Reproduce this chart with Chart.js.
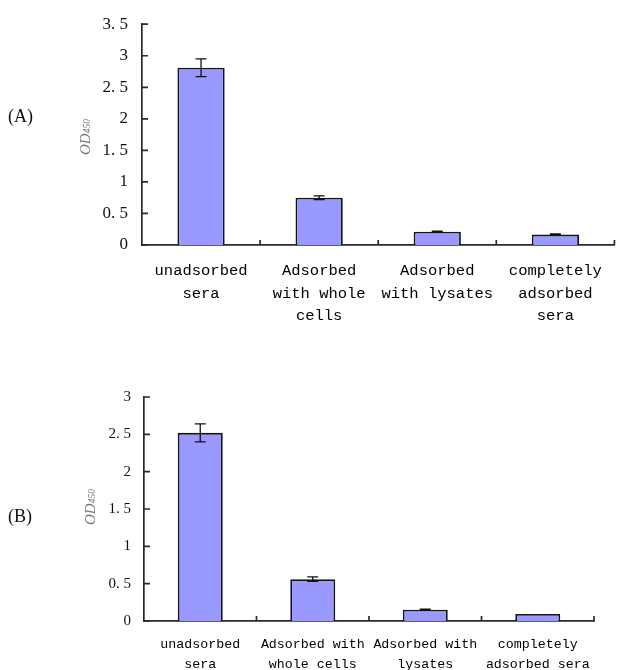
<!DOCTYPE html>
<html lang="en">
<head>
<meta charset="UTF-8">
<title>OD450 of adsorbed sera</title>
<script src="https://cdn.jsdelivr.net/npm/chart.js"></script>
<style>
  body { margin: 0; width: 617px; height: 670px; position: relative; background: #fff; overflow: hidden; }
  canvas { position: absolute; left: 0; }
  #chartA { top: 0; }
  #chartB { top: 375px; }
  .panel { position: absolute; left: 8px; font-family: "Liberation Serif", serif; font-size: 18px; line-height: 20px; color: #111; }
  .ytitle { position: absolute; font-family: "Liberation Serif", serif; font-style: italic; color: #777;
            font-size: 15px; white-space: nowrap; transform: translate(-50%, -50%) rotate(-90deg); }
  .ytitle span { font-size: 9.5px; }
</style>
</head>
<body>
  <canvas id="chartA" width="617" height="330"></canvas>
  <canvas id="chartB" width="617" height="295"></canvas>
  <div class="panel" style="top:106px">(A)</div>
  <div class="panel" style="top:506px">(B)</div>
  <div class="ytitle" style="left:85px; top:137px">OD<span>450</span></div>
  <div class="ytitle" style="left:90px; top:507px">OD<span>450</span></div>

<script>
  // Panel A data
  const categoriesA = [['unadsorbed', 'sera'], ['Adsorbed', 'with whole', 'cells'], ['Adsorbed', 'with lysates'], ['completely', 'adsorbed', 'sera']];
  const valuesA = [2.81, 0.75, 0.21, 0.165];
  const errorsA = [0.14, 0.03, 0.01, 0.01];
  const yTicksA = ['0', '0. 5', '1', '1. 5', '2', '2. 5', '3', '3. 5'];

  // Panel B data
  const categoriesB = [['unadsorbed', 'sera'], ['Adsorbed with', 'whole cells'], ['Adsorbed with', 'lysates'], ['completely', 'adsorbed sera']];
  const valuesB = [2.52, 0.56, 0.15, 0.093];
  const errorsB = [0.12, 0.03, 0.008, 0];
  const yTicksB = ['0', '0. 5', '1', '1. 5', '2', '2. 5', '3'];

  // error bars + inside tick marks
  const decorPlugin = {
    id: 'decor',
    afterDatasetsDraw(chart, args, opts) {
      const ctx = chart.ctx;
      const x = chart.scales.x, y = chart.scales.y;
      const meta = chart.getDatasetMeta(0);
      const data = chart.data.datasets[0].data;
      ctx.save();
      ctx.strokeStyle = '#111';
      ctx.lineWidth = 1.3;
      ctx.beginPath();
      opts.errors.forEach((e, i) => {
        if (!e) return;
        const cx = meta.data[i].x;
        const top = y.getPixelForValue(data[i] + e);
        const bot = y.getPixelForValue(data[i] - e);
        ctx.moveTo(cx, top); ctx.lineTo(cx, bot);
        ctx.moveTo(cx - opts.cap, top); ctx.lineTo(cx + opts.cap, top);
        ctx.moveTo(cx - opts.cap, bot); ctx.lineTo(cx + opts.cap, bot);
      });
      ctx.stroke();

      ctx.strokeStyle = '#2a2a2a';
      ctx.lineWidth = 1.7;
      ctx.beginPath();
      y.ticks.forEach((t, i) => {
        const py = y.getPixelForTick(i);
        ctx.moveTo(x.left, py); ctx.lineTo(x.left + 6, py);
      });
      for (let i = 1; i <= chart.data.labels.length; i++) {
        const px = x.getPixelForValue(i - 0.5);
        ctx.moveTo(px, y.bottom); ctx.lineTo(px, y.bottom - 5);
      }
      ctx.stroke();
      ctx.restore();
    }
  };

  function makeChart(id, cats, vals, errs, yLabels, yMax, s) {
    return new Chart(document.getElementById(id), {
      type: 'bar',
      data: {
        labels: cats,
        datasets: [{
          data: vals,
          backgroundColor: '#9999ff',
          borderColor: '#151515',
          borderWidth: 1.8,
          barPercentage: 0.4,
          categoryPercentage: 1
        }]
      },
      options: {
        responsive: false,
        animation: false,
        devicePixelRatio: 1,
        layout: { padding: { top: s.top, right: s.right, left: 0, bottom: 0 } },
        plugins: {
          legend: { display: false },
          tooltip: { enabled: false },
          decor: { errors: errs, cap: 5.5 }
        },
        scales: {
          x: {
            grid: { display: false, drawTicks: false },
            border: { color: '#2a2a2a', width: 1.7 },
            ticks: {
              color: '#000',
              font: { family: 'Liberation Mono', size: s.xFont, lineHeight: s.xLine },
              padding: s.xPad,
              maxRotation: 0,
              autoSkip: false
            },
            afterFit(sc) { sc.height = s.xHeight; }
          },
          y: {
            min: 0,
            max: yMax,
            grid: { display: false, drawTicks: false },
            border: { color: '#2a2a2a', width: 1.7 },
            ticks: {
              stepSize: 0.5,
              color: '#111',
              font: { family: 'Liberation Serif', size: s.yFont },
              padding: s.yPad,
              callback: (v, i) => yLabels[i]
            },
            afterFit(sc) { sc.width = s.yWidth; }
          }
        }
      },
      plugins: [decorPlugin]
    });
  }

  makeChart('chartA', categoriesA, valuesA, errorsA, yTicksA, 3.5,
    { top: 17, right: 1, xHeight: 85, yWidth: 142, xFont: 15.5, xLine: 1.45, xPad: 15, yFont: 17, yPad: 14 });
  makeChart('chartB', categoriesB, valuesB, errorsB, yTicksB, 3,
    { top: 19, right: 23, xHeight: 49, yWidth: 144, xFont: 13.3, xLine: 1.5, xPad: 14, yFont: 15, yPad: 13 });
</script>
</body>
</html>
